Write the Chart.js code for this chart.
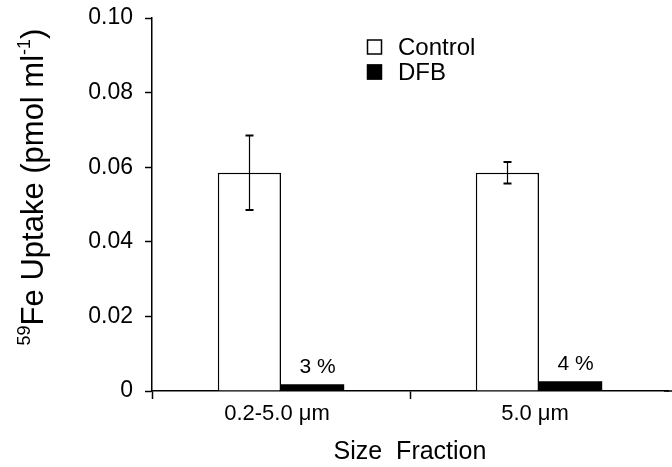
<!DOCTYPE html>
<html>
<head>
<meta charset="utf-8">
<script src="https://cdn.jsdelivr.net/npm/chart.js@4.4.1/dist/chart.umd.min.js"></script>
<style>
  html, body { margin: 0; padding: 0; background: #fff; }
  #wrap { width: 672px; height: 467px; }
</style>
</head>
<body>
<div id="wrap"><canvas id="c" width="672" height="467"></canvas></div>
<script>
// ---- data ----
const categories = ['0.2-5.0 \u03bcm', '5.0 \u03bcm'];
const seriesNames = ['Control', 'DFB'];
const controlValues = [0.0585, 0.0585];
const controlErrors = [0.0100, 0.0029];
const dfbValues = [0.0018, 0.0026];
const dfbPercentLabels = ['3 %', '4 %'];
const yTickValues = [0, 0.02, 0.04, 0.06, 0.08, 0.10];
const xTitle = 'Size  Fraction';
const yTitleParts = [
  { text: '59', sup: true },
  { text: 'Fe Uptake (pmol ml', sup: false },
  { text: '-1', sup: true },
  { text: ')', sup: false }
];

const FONT = '"Liberation Sans", Arial, Helvetica, sans-serif';

// ---- plugins ----
const errorBarPlugin = {
  id: 'errorBars',
  afterDatasetsDraw(chart) {
    const ctx = chart.ctx;
    const yScale = chart.scales.y;
    const meta = chart.getDatasetMeta(0);
    ctx.save();
    ctx.strokeStyle = '#000';
    meta.data.forEach((bar, i) => {
      const v = controlValues[i], e = controlErrors[i];
      const yTop = yScale.getPixelForValue(v + e);
      const yBot = yScale.getPixelForValue(v - e);
      const x = Math.round(bar.x) + 0.5;
      ctx.lineWidth = 1.2;
      ctx.beginPath();
      ctx.moveTo(x, yTop); ctx.lineTo(x, yBot);
      ctx.stroke();
      ctx.lineWidth = 2;
      ctx.beginPath();
      ctx.moveTo(x - 4, yTop); ctx.lineTo(x + 4, yTop);
      ctx.moveTo(x - 4, yBot); ctx.lineTo(x + 4, yBot);
      ctx.stroke();
    });
    ctx.restore();
  }
};

const pctLabelPlugin = {
  id: 'pctLabels',
  afterDatasetsDraw(chart) {
    const ctx = chart.ctx;
    const meta = chart.getDatasetMeta(1);
    ctx.save();
    ctx.fillStyle = '#000';
    ctx.font = '21px ' + FONT;
    ctx.textAlign = 'center';
    ctx.textBaseline = 'alphabetic';
    meta.data.forEach((bar, i) => {
      ctx.fillText(dfbPercentLabels[i], bar.x + 5, bar.y - 11);
    });
    ctx.restore();
  }
};

const legendPlugin = {
  id: 'customLegend',
  afterDraw(chart) {
    const ctx = chart.ctx;
    const x0 = 367, y0 = 47, rowH = 25, box = 15;
    ctx.save();
    ctx.font = '24px ' + FONT;
    ctx.textBaseline = 'middle';
    ctx.textAlign = 'left';
    chart.data.datasets.forEach((ds, i) => {
      const cy = y0 + i * rowH;
      ctx.fillStyle = ds.backgroundColor;
      ctx.fillRect(x0, cy - box / 2, box, box);
      ctx.strokeStyle = '#000';
      ctx.lineWidth = 1.5;
      ctx.strokeRect(x0 + 0.5, cy - box / 2 + 0.5, box - 1, box - 1);
      ctx.fillStyle = '#000';
      ctx.fillText(ds.label, x0 + 31, cy + 1);
    });
    ctx.restore();
  }
};

const yTitlePlugin = {
  id: 'yTitle',
  afterDraw(chart) {
    const ctx = chart.ctx;
    const big = 31, small = 18;
    ctx.save();
    const widths = yTitleParts.map(p => {
      ctx.font = (p.sup ? small : big) + 'px ' + FONT;
      return ctx.measureText(p.text).width;
    });
    const total = widths.reduce((a, b) => a + b, 0);
    const cx = 43, cy = 187;
    ctx.translate(cx, cy);
    ctx.rotate(-Math.PI / 2);
    ctx.fillStyle = '#000';
    ctx.textBaseline = 'alphabetic';
    ctx.textAlign = 'left';
    let x = -total / 2;
    yTitleParts.forEach((p, i) => {
      ctx.font = (p.sup ? small : big) + 'px ' + FONT;
      ctx.fillText(p.text, x, p.sup ? -13 : 0);
      x += widths[i];
    });
    ctx.restore();
  }
};

const axisExtendPlugin = {
  id: 'axisExtend',
  afterDraw(chart) {
    const ctx = chart.ctx;
    const a = chart.chartArea;
    ctx.save();
    // no tick mark at the far right end of the category axis
    ctx.fillStyle = '#fff';
    ctx.fillRect(a.right - 3, a.bottom + 1, 6, 10);
    ctx.strokeStyle = '#000';
    ctx.lineWidth = 1.5;
    ctx.beginPath();
    ctx.moveTo(a.right - 4, a.bottom);
    ctx.lineTo(chart.width, a.bottom);
    ctx.stroke();
    ctx.restore();
  }
};

// ---- chart ----
new Chart(document.getElementById('c'), {
  type: 'bar',
  data: {
    labels: categories,
    datasets: [
      {
        label: seriesNames[0],
        data: controlValues,
        backgroundColor: '#ffffff',
        borderColor: '#000000',
        borderWidth: 1.5,
        categoryPercentage: 0.49,
        barPercentage: 1.0
      },
      {
        label: seriesNames[1],
        data: dfbValues,
        backgroundColor: '#000000',
        borderColor: '#000000',
        borderWidth: 0,
        categoryPercentage: 0.49,
        barPercentage: 1.0
      }
    ]
  },
  options: {
    responsive: false,
    animation: false,
    devicePixelRatio: 1,
    layout: { padding: { top: 18, right: 4, left: 0, bottom: 0 } },
    plugins: {
      legend: { display: false },
      tooltip: { enabled: false },
      title: { display: false }
    },
    scales: {
      x: {
        afterFit(scale) { scale.height = 76; },
        grid: {
          display: true,
          drawOnChartArea: false,
          drawTicks: true,
          tickLength: 8,
          tickWidth: 1.5,
          offset: true,
          color: '#000'
        },
        border: { display: true, color: '#000', width: 1.5 },
        ticks: {
          color: '#000',
          font: { family: FONT, size: 22 },
          padding: 2,
          labelOffset: -4
        },
        title: {
          display: true,
          text: xTitle,
          color: '#000',
          font: { family: FONT, size: 25 },
          padding: { top: 10, bottom: 0 }
        }
      },
      y: {
        min: 0,
        max: 0.10,
        afterFit(scale) {
          scale.width = 152;
          scale.paddingTop = 0;
          scale.paddingBottom = 0;
        },
        afterBuildTicks(scale) {
          scale.ticks = yTickValues.map(v => ({ value: v }));
        },
        grid: {
          display: true,
          drawOnChartArea: false,
          drawTicks: true,
          tickLength: 7,
          tickWidth: 1.5,
          color: '#000'
        },
        border: { display: true, color: '#000', width: 1.5 },
        ticks: {
          color: '#000',
          font: { family: FONT, size: 23 },
          padding: 12,
          callback: (v) => (v === 0 ? '0' : v.toFixed(2))
        }
      }
    }
  },
  plugins: [errorBarPlugin, pctLabelPlugin, legendPlugin, yTitlePlugin, axisExtendPlugin]
});
</script>
</body>
</html>
